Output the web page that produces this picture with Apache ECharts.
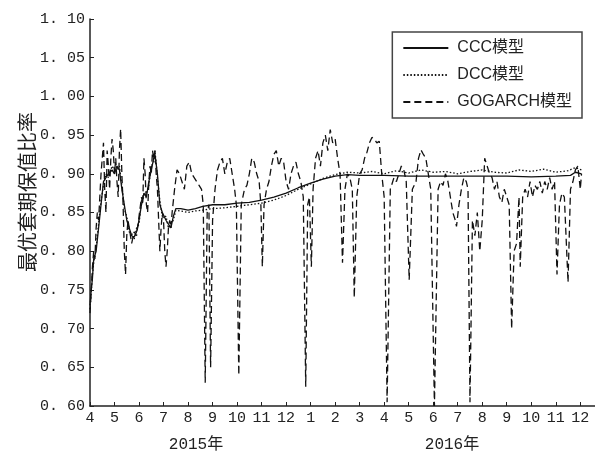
<!DOCTYPE html>
<html>
<head>
<meta charset="utf-8">
<script src="https://cdn.jsdelivr.net/npm/echarts@6/dist/echarts.min.js"></script>
<style>
  html, body { margin: 0; padding: 0; background: #fff; }
  #main { width: 595px; height: 455px; }
</style>
</head>
<body>
<div id="main"></div>
<script>
// x 轴: 0 = 2015年4月, 20 = 2016年12月
var monthTicks = [0, 1, 2, 3, 4, 5, 6, 7, 8, 9, 10, 11, 12, 13, 14, 15, 16, 17, 18, 19, 20];
var monthLabels = ['4', '5', '6', '7', '8', '9', '10', '11', '12', '1', '2', '3', '4', '5', '6', '7', '8', '9', '10', '11', '12'];
var yearLabels = ['2015年', '2016年'];
var yTicks = [0.60, 0.65, 0.70, 0.75, 0.80, 0.85, 0.90, 0.95, 1.00, 1.05, 1.10];
var yTickLabels = ['0. 60', '0. 65', '0. 70', '0. 75', '0. 80', '0. 85', '0. 90', '0. 95', '1. 00', '1. 05', '1. 10'];
var seriesNames = ['CCC模型', 'DCC模型', 'GOGARCH模型'];

var ccc = [[0, 0.73], [0.05, 0.75], [0.1, 0.765], [0.15, 0.79], [0.25, 0.80], [0.35, 0.83], [0.45, 0.86],
  [0.55, 0.89], [0.65, 0.895], [0.75, 0.90], [0.9, 0.905], [1.0, 0.90], [1.1, 0.91], [1.2, 0.905],
  [1.3, 0.88], [1.4, 0.86], [1.5, 0.84], [1.6, 0.83], [1.7, 0.82], [1.8, 0.818], [1.9, 0.825],
  [2.0, 0.84], [2.1, 0.86], [2.2, 0.875], [2.3, 0.87], [2.4, 0.89], [2.5, 0.905], [2.6, 0.92],
  [2.65, 0.925], [2.75, 0.90], [2.85, 0.86], [2.95, 0.85], [3.1, 0.84], [3.2, 0.835], [3.3, 0.83],
  [3.4, 0.845], [3.5, 0.855], [3.7, 0.855], [4.0, 0.853], [4.3, 0.855], [4.6, 0.858], [5.0, 0.86],
  [5.5, 0.86], [6.0, 0.862], [6.5, 0.863], [7.0, 0.866], [7.5, 0.87], [8.0, 0.875], [8.5, 0.882],
  [9.0, 0.888], [9.5, 0.893], [10.0, 0.897], [10.5, 0.899], [11.0, 0.898], [12.0, 0.898],
  [13.0, 0.897], [14.0, 0.897], [15.0, 0.897], [16.0, 0.897], [17.0, 0.897], [18.0, 0.896],
  [19.0, 0.897], [19.6, 0.898], [19.8, 0.902], [20.05, 0.90]];

var dcc = [[0, 0.725], [0.05, 0.745], [0.1, 0.77], [0.15, 0.785], [0.25, 0.805], [0.35, 0.835], [0.45, 0.865],
  [0.55, 0.885], [0.65, 0.90], [0.75, 0.895], [0.9, 0.91], [1.0, 0.905], [1.1, 0.905], [1.2, 0.91],
  [1.3, 0.885], [1.4, 0.855], [1.5, 0.845], [1.6, 0.825], [1.7, 0.823], [1.8, 0.815], [1.9, 0.83],
  [2.0, 0.835], [2.1, 0.865], [2.2, 0.87], [2.3, 0.875], [2.4, 0.885], [2.5, 0.91], [2.6, 0.915],
  [2.65, 0.93], [2.75, 0.895], [2.85, 0.865], [2.95, 0.845], [3.1, 0.845], [3.2, 0.83], [3.3, 0.835],
  [3.4, 0.84], [3.5, 0.853], [3.7, 0.852], [4.0, 0.85], [4.3, 0.852], [4.6, 0.853], [5.0, 0.855],
  [5.5, 0.856], [6.0, 0.858], [6.5, 0.86], [7.0, 0.862], [7.5, 0.866], [8.0, 0.872], [8.5, 0.88],
  [9.0, 0.887], [9.5, 0.894], [10.0, 0.899], [10.5, 0.902], [11.0, 0.901], [11.5, 0.903],
  [12.0, 0.90], [12.5, 0.904], [13.0, 0.901], [13.5, 0.905], [14.0, 0.902], [14.5, 0.903],
  [15.0, 0.90], [15.5, 0.903], [16.0, 0.905], [16.5, 0.902], [17.0, 0.901], [17.5, 0.905],
  [18.0, 0.903], [18.5, 0.906], [19.0, 0.902], [19.5, 0.904], [19.8, 0.908], [20.05, 0.905]];

var gogarch = [[0, 0.72], [0.05, 0.75], [0.1, 0.78], [0.15, 0.80], [0.2, 0.79], [0.25, 0.83], [0.3, 0.85],
  [0.35, 0.84], [0.4, 0.87], [0.45, 0.90], [0.5, 0.92], [0.55, 0.94], [0.6, 0.88], [0.65, 0.85],
  [0.7, 0.93], [0.75, 0.91], [0.8, 0.88], [0.85, 0.92], [0.9, 0.945], [0.95, 0.93], [1.0, 0.90],
  [1.05, 0.92], [1.1, 0.89], [1.15, 0.87], [1.2, 0.93], [1.25, 0.958], [1.3, 0.90], [1.35, 0.86],
  [1.4, 0.80], [1.45, 0.77], [1.5, 0.82], [1.55, 0.84], [1.6, 0.83], [1.7, 0.81], [1.8, 0.825],
  [1.9, 0.82], [2.0, 0.845], [2.1, 0.87], [2.15, 0.86], [2.2, 0.92], [2.25, 0.90], [2.3, 0.86],
  [2.35, 0.85], [2.4, 0.89], [2.45, 0.91], [2.5, 0.90], [2.55, 0.93], [2.6, 0.92], [2.65, 0.93],
  [2.7, 0.90], [2.75, 0.88], [2.8, 0.84], [2.85, 0.80], [2.9, 0.83], [2.95, 0.85], [3.0, 0.84],
  [3.05, 0.80], [3.1, 0.78], [3.15, 0.80], [3.2, 0.83], [3.25, 0.84], [3.3, 0.83], [3.35, 0.85],
  [3.45, 0.88], [3.55, 0.905], [3.65, 0.90], [3.75, 0.89], [3.85, 0.88], [3.95, 0.91], [4.05, 0.915],
  [4.15, 0.90], [4.25, 0.895], [4.35, 0.89], [4.45, 0.885], [4.55, 0.88], [4.62, 0.86], [4.7, 0.63],
  [4.78, 0.85], [4.85, 0.86], [4.92, 0.65], [5.0, 0.84], [5.1, 0.88], [5.2, 0.905], [5.3, 0.915],
  [5.4, 0.92], [5.5, 0.90], [5.6, 0.915], [5.7, 0.92], [5.8, 0.90], [5.9, 0.88], [5.97, 0.86],
  [6.07, 0.64], [6.17, 0.86], [6.3, 0.88], [6.4, 0.885], [6.5, 0.90], [6.6, 0.92], [6.7, 0.915],
  [6.8, 0.90], [6.9, 0.89], [6.97, 0.86], [7.03, 0.78], [7.1, 0.86], [7.2, 0.88], [7.3, 0.89],
  [7.4, 0.91], [7.5, 0.925], [7.6, 0.93], [7.7, 0.91], [7.8, 0.92], [7.9, 0.915], [8.0, 0.89],
  [8.1, 0.88], [8.2, 0.90], [8.3, 0.91], [8.4, 0.915], [8.5, 0.90], [8.6, 0.89], [8.7, 0.87],
  [8.8, 0.625], [8.88, 0.86], [8.95, 0.87], [9.03, 0.78], [9.1, 0.88], [9.2, 0.92], [9.3, 0.93],
  [9.4, 0.91], [9.5, 0.94], [9.6, 0.95], [9.7, 0.93], [9.8, 0.957], [9.9, 0.94], [10.0, 0.945],
  [10.1, 0.92], [10.2, 0.90], [10.3, 0.785], [10.4, 0.88], [10.5, 0.90], [10.6, 0.895], [10.7, 0.88],
  [10.78, 0.74], [10.88, 0.87], [11.0, 0.90], [11.1, 0.905], [11.2, 0.92], [11.3, 0.928], [11.4, 0.94],
  [11.5, 0.947], [11.6, 0.945], [11.7, 0.94], [11.8, 0.942], [11.9, 0.90], [12.0, 0.87], [12.12, 0.605],
  [12.25, 0.88], [12.4, 0.895], [12.5, 0.89], [12.6, 0.90], [12.7, 0.91], [12.8, 0.905], [12.9, 0.89],
  [13.02, 0.763], [13.15, 0.88], [13.3, 0.89], [13.4, 0.92], [13.5, 0.931], [13.6, 0.925], [13.7, 0.92],
  [13.8, 0.90], [13.9, 0.88], [14.05, 0.60], [14.2, 0.88], [14.3, 0.89], [14.4, 0.885], [14.5, 0.90],
  [14.6, 0.89], [14.7, 0.87], [14.8, 0.85], [14.9, 0.84], [14.95, 0.832], [15.05, 0.86], [15.15, 0.88],
  [15.25, 0.895], [15.35, 0.89], [15.42, 0.88], [15.5, 0.605], [15.6, 0.84], [15.7, 0.82], [15.8, 0.85],
  [15.9, 0.80], [16.0, 0.84], [16.1, 0.92], [16.2, 0.91], [16.3, 0.90], [16.4, 0.895], [16.5, 0.88],
  [16.6, 0.89], [16.7, 0.87], [16.8, 0.863], [16.9, 0.88], [17.0, 0.87], [17.1, 0.86], [17.2, 0.70],
  [17.3, 0.80], [17.4, 0.81], [17.5, 0.87], [17.55, 0.78], [17.65, 0.87], [17.75, 0.88], [17.85, 0.87],
  [17.95, 0.89], [18.05, 0.87], [18.15, 0.885], [18.25, 0.88], [18.35, 0.89], [18.45, 0.875],
  [18.55, 0.89], [18.65, 0.88], [18.75, 0.895], [18.85, 0.88], [18.95, 0.89], [19.05, 0.77],
  [19.15, 0.86], [19.25, 0.875], [19.35, 0.87], [19.5, 0.76], [19.6, 0.88], [19.7, 0.89], [19.8, 0.905],
  [19.9, 0.91], [20.0, 0.88], [20.05, 0.90]];

var monoFont = "'Liberation Mono', 'Noto Sans CJK SC', monospace";
var legendFont = "'Liberation Sans', 'Noto Sans CJK SC', sans-serif";

var myChart = echarts.init(document.getElementById('main'));

var option = {
  animation: false,
  grid: { left: 90, right: 0, top: 19, bottom: 49 },
  legend: {
    data: seriesNames,
    orient: 'vertical',
    right: 13,
    top: 32,
    padding: [8, 10, 8, 10],
    itemWidth: 45,
    itemHeight: 14,
    itemGap: 11,
    borderColor: '#444',
    borderWidth: 1.5,
    itemStyle: { opacity: 0 },
    textStyle: { fontFamily: legendFont, fontSize: 16, color: '#222', padding: [0, 0, 0, 4] }
  },
  xAxis: {
    type: 'value',
    min: 0,
    max: 20.6,
    interval: 1,
    axisLine: { lineStyle: { color: '#222', width: 1.5 } },
    axisTick: { inside: true, length: 4, customValues: monthTicks, lineStyle: { color: '#222' } },
    axisLabel: {
      customValues: monthTicks,
      formatter: function (v) { return monthLabels[Math.round(v)]; },
      color: '#222', fontFamily: monoFont, fontSize: 15, margin: 5
    },
    splitLine: { show: false }
  },
  yAxis: {
    type: 'value',
    min: 0.6,
    max: 1.1,
    interval: 0.05,
    axisLine: { show: true, lineStyle: { color: '#222', width: 1.5 } },
    axisTick: { show: true, inside: true, length: 4, lineStyle: { color: '#222' } },
    axisLabel: {
      formatter: function (v) { return yTickLabels[Math.round((v - yTicks[0]) / 0.05)]; },
      color: '#222', fontFamily: monoFont, fontSize: 15, margin: 5
    },
    splitLine: { show: false }
  },
  graphic: [
    { type: 'text', x: 27, y: 192, rotation: Math.PI / 2,
      style: { text: '最优套期保值比率', font: "20px 'Noto Sans CJK SC'", fill: '#222', align: 'center', verticalAlign: 'middle' } },
    { type: 'text', x: 196, y: 445,
      style: { text: yearLabels[0], font: "16px " + monoFont, fill: '#222', align: 'center', verticalAlign: 'middle' } },
    { type: 'text', x: 452, y: 445,
      style: { text: yearLabels[1], font: "16px " + monoFont, fill: '#222', align: 'center', verticalAlign: 'middle' } }
  ],
  series: [
    { name: seriesNames[0], type: 'line', data: ccc, showSymbol: false, symbol: 'none', z: 3,
      itemStyle: { color: '#111' }, lineStyle: { color: '#111', width: 1.3, type: 'solid' } },
    { name: seriesNames[1], type: 'line', data: dcc, showSymbol: false, symbol: 'none', z: 2,
      itemStyle: { color: '#111' }, lineStyle: { color: '#111', width: 1.3, type: [1.5, 2] } },
    { name: seriesNames[2], type: 'line', data: gogarch, showSymbol: false, symbol: 'none', z: 1,
      itemStyle: { color: '#111' }, lineStyle: { color: '#111', width: 1.3, type: [7, 4] } }
  ]
};

myChart.setOption(option, true);
</script>
</body>
</html>
